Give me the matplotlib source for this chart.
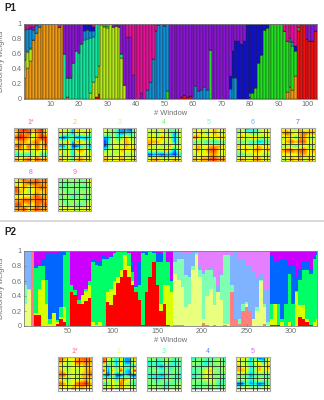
import numpy as np
import matplotlib
matplotlib.use("Agg")
import matplotlib.pyplot as plt

plt.rcParams['font.family'] = ['Liberation Sans', 'DejaVu Sans']

W, H = 324, 400

# P1 dictionary weights, one value per window (103 windows)
p1_red = [0]*25 + [.02, .06] + [0]*28 + [.02, .05, .02, .04] + [0]*20 + [.02] + [0]*16 + [.90, 1, 1, .80, .77, .77, .90]
p1_orange = [.28, .41, .50, .78, .88, .96, 1, 1, 1, 1, 1, 1, .95, 1, 0, .02] + [0]*76 + [.09, .15, .12, .30, .02] + [0]*6
p1_yellow = [.24, .21, .16] + [0]*20 + [.08, .22, .27, .37, .98, .95, .94, .99, .96, .97, .95, .54, .18] + [0]*60 + [.01] + [0]*6
p1_green = [0]*27 + [.02, .02, .03] + [0]*20 + [.10] + [0]*14 + [.65] + [0]*13 + [.06, .08, .14, .47, .58, .92, .94, 1, 1, 1, 1, 1, .90, .68, .60, .58, .33, .02] + [0]*6
p1_teal = [0, .02, .02] + [0]*11 + [.60, .25, .27, .47, .64, .61, .73, .78, .80, .73, .60, .71, .57, 0, .03, .03, .01, 0, 0, 0, .06] + [0]*68
p1_blue = [.40, .29, .25, .13, .10, .04] + [0]*15 + [.12, .12, .09, .08] + [0]*18 + [.12, .22, .53, .90, .98, 1, .97, .90] + [0]*9 + [.17, .10, .12, .16, .12] + [0]*7 + [.13, .28, .28] + [0]*18 + [.06, .06] + [0]*8
p1_navy = [0]*21 + [.10, .08, .10, .05] + [0]*47 + [.17, .35, .49, .77, .73, .77, 1, .92, .92, .86, .53, .42, .08, .06] + [0]*9 + [.07] + [0]*7
p1_purple = [0, 0, .03, .05] + [0]*10 + [.40, .73, .73, .53, .36, .39, .27] + [0]*10 + [.04, .03, .05, .40, .82, .82, .82, .32, 0, 0, .08] + [0]*7 + [.03, 0, 1, 1, 1, 1, .98, .95, .98, .96, 1, .83, .90, .88, .84, .88, .35, 1, 1, 1, 1, 1, 1, .70, .37, .23, .23, .27, .23] + [0]*21 + [.20, .23, .23, .10]
p1_magenta = [.08, .07, .04, .04, .02] + [0]*7 + [.05] + [0]*11 + [.05] + [0]*11 + [.18, .18, .68, 1, 1, .92, 1, .88, .78, .47, .10, .02] + [0]*43 + [.10, .23, .19, .24, .30, .05] + [0]*6
p1_series = [p1_red, p1_orange, p1_yellow, p1_green, p1_teal, p1_blue, p1_navy, p1_purple, p1_magenta]
p1_colors = ['#f01010', '#f09a10', '#b4e814', '#20e020', '#10e8a0', '#1090d8', '#1010d0', '#8c14d8', '#e6109a']

# P2 stack boundaries, read every 4 windows
p2_red = [0, 0, 1, .15, .15, 0, 0, 0, 0, .03, .10, .05, 0, .45, .42, .30, .30, .33, .38, 0, 0, 0, 0, .32, .28, .42, .58, .65, .75, .65, .55, .45, .35, .02, .45, .65, .85, .55, .2, .3, .02, 0, .02, .02, .01, 0, 0, 0, 0, 0, .04, .02, 0, .01, 0, 0, .01, 0, .45, .1, .03, .2, .25, .2, 0, 0, 0, .03, 0, .02, .02, .01, 0, 0, 0, 0, 0, .12, .1, .05, .02, 0, 0]
p2_yellow = [.30, .48, 1, .18, .50, .62, .30, .03, .18, .05, .12, .25, 0, .45, .42, .30, .42, .47, .55, .05, .02, .05, 0, .45, .5, .6, .65, .75, .95, .8, .6, .45, .35, .02, .45, .65, .85, .55, .3, .55, .55, .45, .70, .62, .52, .25, .3, .75, .95, .65, .1, .4, .5, .28, .45, .35, .03, .03, .45, .1, .03, .2, .3, .2, .1, .2, .6, .25, .02, .1, .3, .02, .05, 0, .05, 0, .45, .28, .28, .1, .02, .05, .1]
p2_green = [.55, .50, 1, .78, .80, .80, .62, .10, .18, .08, .25, .95, 1, .55, .48, .35, .42, .50, .60, .85, .82, .80, .9, .9, .92, .97, 1, 1, 1, .97, .72, .52, .55, .98, .95, 1, .98, .85, .85, 1, .85, .6, .85, .9, .9, .68, .65, .8, .98, .75, .7, .75, .75, .65, .45, .68, .95, .95, .55, .1, .1, .3, .32, .2, .1, .25, .62, .3, .05, .3, .3, .3, .1, .3, .7, .3, .47, .62, .75, .75, .7, .9, .95]
p2_blue = [1, 1, 1, .80, .82, .90, .98, .98, .98, .98, 1, 1, 1, .55, .48, .35, .42, .50, .60, .88, .85, .85, .95, .92, .95, .97, 1, 1, 1, .97, .85, .55, .85, 1, 1, 1, 1, .98, .98, 1, .87, .62, 1, 1, .98, .98, .98, 1, 1, .8, .72, .75, .78, .68, .55, .7, .95, .97, .95, 1, .9, .9, .8, .8, .72, .65, .7, .5, .5, .95, .85, .85, .9, .9, .8, .8, .65, .75, .85, .85, .75, .95, 1]
p2_top = [1]*83
p2_layers = [p2_red, p2_yellow, p2_green, p2_blue, p2_top]
p2_colors = ['#ff0000', '#d8ff00', '#00ff66', '#0066ff', '#cc00ff']

# dictionary thumbnails, coarse readout (0 = blue ... 9 = red)
p1_thumbs = [
    ["78987896", "68786786", "89875798", "67767868", "88686868", "57675766", "34435634", "76786877"],
    ["65627566", "76527675", "21351223", "66728755", "22611352", "75637765", "55635656", "76647766"],
    ["65532216", "65532336", "23635755", "14656765", "14665766", "46557667", "65566555", "76667666"],
    ["65575456", "56465525", "66576526", "77765625", "75655756", "56567526", "12212213", "67766676"],
    ["76566767", "56746755", "87576677", "44534344", "67667776", "67578866", "56667766", "76778877"],
    ["46233566", "56644566", "67577656", "44534234", "76656766", "56767767", "44556655", "67667766"],
    ["66557566", "78767877", "56647755", "67878866", "55545655", "78878867", "66667766", "56767576"],
    ["67877878", "56788877", "86756787", "87656767", "66667877", "77887887", "88676878", "77867877"],
    ["45555456", "54454546", "44545445", "55454555", "45534545", "54555545", "55454456", "66665666"],
]
p1_thumb_labels = ['1*', '2', '3', '4', '5', '6', '7', '8', '9']
p1_thumb_colors = ['#ff6060', '#ffc060', '#d8ff60', '#60ff60', '#60ffc0', '#60b0ff', '#6060ff', '#d060ff', '#ff60c0']
p2_thumbs = [
    ["87667887", "76568787", "65566676", "76565677", "88565778", "65565675", "87568897", "66676766"],
    ["86537227", "85527226", "43536443", "92749329", "21511321", "76637765", "34658553", "76747666"],
    ["55445545", "34345434", "44324344", "45545454", "33323443", "54345544", "45453445", "55544555"],
    ["34544454", "55434554", "44445455", "44567545", "34465454", "45566544", "54445534", "44554545"],
    ["66625126", "65536636", "76634767", "77635756", "44424344", "66535755", "11423124", "56655566"],
]
p2_thumb_labels = ['1*', '2', '3', '4', '5']
p2_thumb_colors = ['#ff6080', '#f0ff50', '#50ffa0', '#5090ff', '#e060ff']

GRAY = '#6e6e6e'


def px_axes(fig, x0, y0, x1, y1):
    return fig.add_axes([x0/W, 1-y1/H, (x1-x0)/W, (y1-y0)/H])


def style_axes(ax):
    ax.set_ylim(0, 1)
    ax.set_yticks([0, .2, .4, .6, .8, 1])
    ax.set_yticklabels(['0', '0.2', '0.4', '0.6', '0.8', '1'])
    ax.tick_params(direction='in', length=1.5, width=.4, labelsize=5.2, colors=GRAY, pad=1.5)
    for s in ax.spines.values():
        s.set_color('#808080')
        s.set_linewidth(.6)
    ax.set_ylabel('Dictionary weights', fontsize=5.4, color=GRAY)
    ax.yaxis.set_label_coords(-18/293.5, .5)
    ax.set_xlabel('# Window', fontsize=5.4, color=GRAY, labelpad=1.5)
    ax.set_axisbelow(False)


def thumb(fig, x0, y0, size, rows, label, color):
    ax = px_axes(fig, x0, y0, x0+size, y0+size)
    vals = np.array([[int(c) for c in r] for r in rows])
    ax.imshow(vals, cmap='jet', vmin=-1, vmax=10, extent=(0, 1, 0, 1), aspect='auto',
              interpolation='bilinear')
    for p in [.12, .28, .5, .63, .84, .93]:
        ax.axvline(p, color='#202020', lw=.6, alpha=.9)
        ax.axhline(1-p, color='#202020', lw=.6, alpha=.9)
    ax.set_xticks([])
    ax.set_yticks([])
    for s in ax.spines.values():
        s.set_color('#a8a8a8')
        s.set_linewidth(.8)
    fig.text((x0+size/2)/W, 1-(y0-5)/H, label, color=color, fontsize=5, ha='center', va='center')


fig = plt.figure(figsize=(W/100, H/100), dpi=100)

fig.text(4/W, 1-8/H, 'P1', fontsize=7, fontweight='bold', color='#222222', va='center')
fig.text(4/W, 1-232/H, 'P2', fontsize=7, fontweight='bold', color='#222222', va='center')

# P1 stacked bars
ax = px_axes(fig, 23.5, 23.5, 317, 98.7)
windows = np.arange(1, 104)
bottom = np.zeros(len(windows))
for vals, col in zip(p1_series, p1_colors):
    vals = np.array(vals, dtype=float)
    ax.bar(windows, vals, bottom=bottom, width=1, color=col, edgecolor='#202020', linewidth=.28)
    bottom += vals
ax.set_xlim(.5, 103.5)
ax.set_xticks(np.arange(10, 101, 10))
style_axes(ax)

pos1 = [13.5, 57.5, 102.5, 147, 191.7, 236, 281]
for i, rows in enumerate(p1_thumbs):
    if i < 7:
        thumb(fig, pos1[i], 127.5, 33.5, rows, p1_thumb_labels[i], p1_thumb_colors[i])
    else:
        thumb(fig, pos1[i-7], 177.5, 33.5, rows, p1_thumb_labels[i], p1_thumb_colors[i])

# separator band
fig.add_artist(plt.Rectangle((0, 1-222/H), 1, 2/H, color='#d9d9d9', lw=0))

# P2 stacked areas
ax = px_axes(fig, 23.5, 251, 317, 326)
edges = np.arange(0, 333, 4)
base = np.zeros(83)
for vals, col in zip(p2_layers, p2_colors):
    vals = np.array(vals, dtype=float)
    ax.stairs(vals, edges, baseline=base, fill=True, color=col, linewidth=0)
    base = vals
for a, b in [(0, 12), (168, 276)]:
    ax.axvspan(a, b, color='white', alpha=.5, lw=0)
ax.set_xlim(0, 329)
ax.set_xticks(np.arange(50, 301, 50))
style_axes(ax)

pos2 = [57.5, 101.7, 146.5, 191, 235.5]
for i, rows in enumerate(p2_thumbs):
    thumb(fig, pos2[i], 356.5, 34, rows, p2_thumb_labels[i], p2_thumb_colors[i])

fig.savefig('out.png', dpi=100)
